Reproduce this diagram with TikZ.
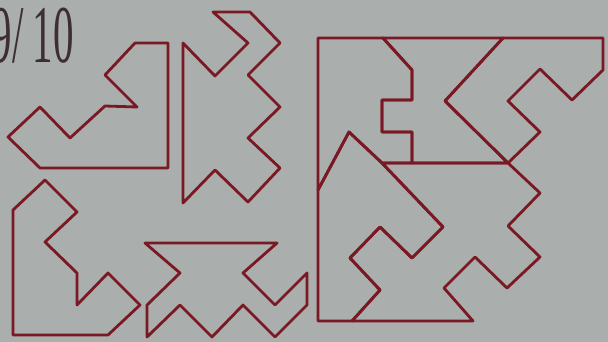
\documentclass[tikz,border=0pt]{standalone}
\usepackage{fontspec}
\setmainfont{Liberation Serif}
\definecolor{bg}{RGB}{170,174,172}
\definecolor{ink}{RGB}{122,24,36}
\definecolor{txt}{RGB}{62,46,50}
\tikzset{piece/.style={draw=ink,line width=2.8pt,line join=round}}
\begin{document}
\begin{tikzpicture}[x=1pt,y=-1pt]
\useasboundingbox (0,0) rectangle (608,342);
\clip (0,0) rectangle (608,342);
\fill[bg] (0,0) rectangle (608,342);
\node[txt,anchor=base east,inner sep=0pt,xscale=0.5,font=\fontsize{82}{82}\selectfont] (label) at (74,63) {9/\kern19pt10};
% shape 1
\draw[piece] (135,43) -- (168,43) -- (168,168) -- (40,168) -- (8,137) -- (40,107) -- (70,138) -- (105,106) -- (137,107) -- (105,75) -- cycle;
% shape 2
\draw[piece] (213,12) -- (250,12) -- (280,43) -- (248,75) -- (280,107) -- (248,138) -- (280,168) -- (248,202) -- (215,170) -- (183,203) -- (183,43) -- (215,76) -- (248,43) -- cycle;
% shape 3
\draw[piece] (45,180) -- (77,212) -- (45,242) -- (77,273) -- (77,305) -- (108,273) -- (140,305) -- (108,335) -- (13,335) -- (13,210) -- cycle;
% shape 4
\draw[piece] (145,243) -- (277,243) -- (243,273) -- (275,305) -- (307,273) -- (307,305) -- (275,337) -- (243,305) -- (212,337) -- (180,305) -- (147,337) -- (147,305) -- (180,273) -- cycle;
% big square pieces
\draw[piece] (318,38) -- (383,38) -- (412,70) -- (412,100) -- (382,100) -- (382,132) -- (412,132) -- (412,163) -- (382,163) -- (349,132) -- (318,190) -- cycle;
\draw[piece] (383,38) -- (503,38) -- (445,101) -- (508,163) -- (412,163) -- (412,132) -- (382,132) -- (382,100) -- (412,100) -- (412,70) -- cycle;
\draw[piece] (503,38) -- (603,38) -- (603,70) -- (572,100) -- (540,69) -- (508,101) -- (540,132) -- (508,163) -- (445,101) -- cycle;
\draw[piece] (382,163) -- (508,163) -- (540,193) -- (508,226) -- (540,257) -- (507,288) -- (475,257) -- (444,288) -- (473,321) -- (352,321) -- (380,290) -- (350,258) -- (380,227) -- (412,258) -- (443,227) -- cycle;
\draw[piece] (318,190) -- (349,132) -- (382,163) -- (443,227) -- (412,258) -- (380,227) -- (350,258) -- (380,290) -- (352,321) -- (318,321) -- cycle;
\end{tikzpicture}
\end{document}
